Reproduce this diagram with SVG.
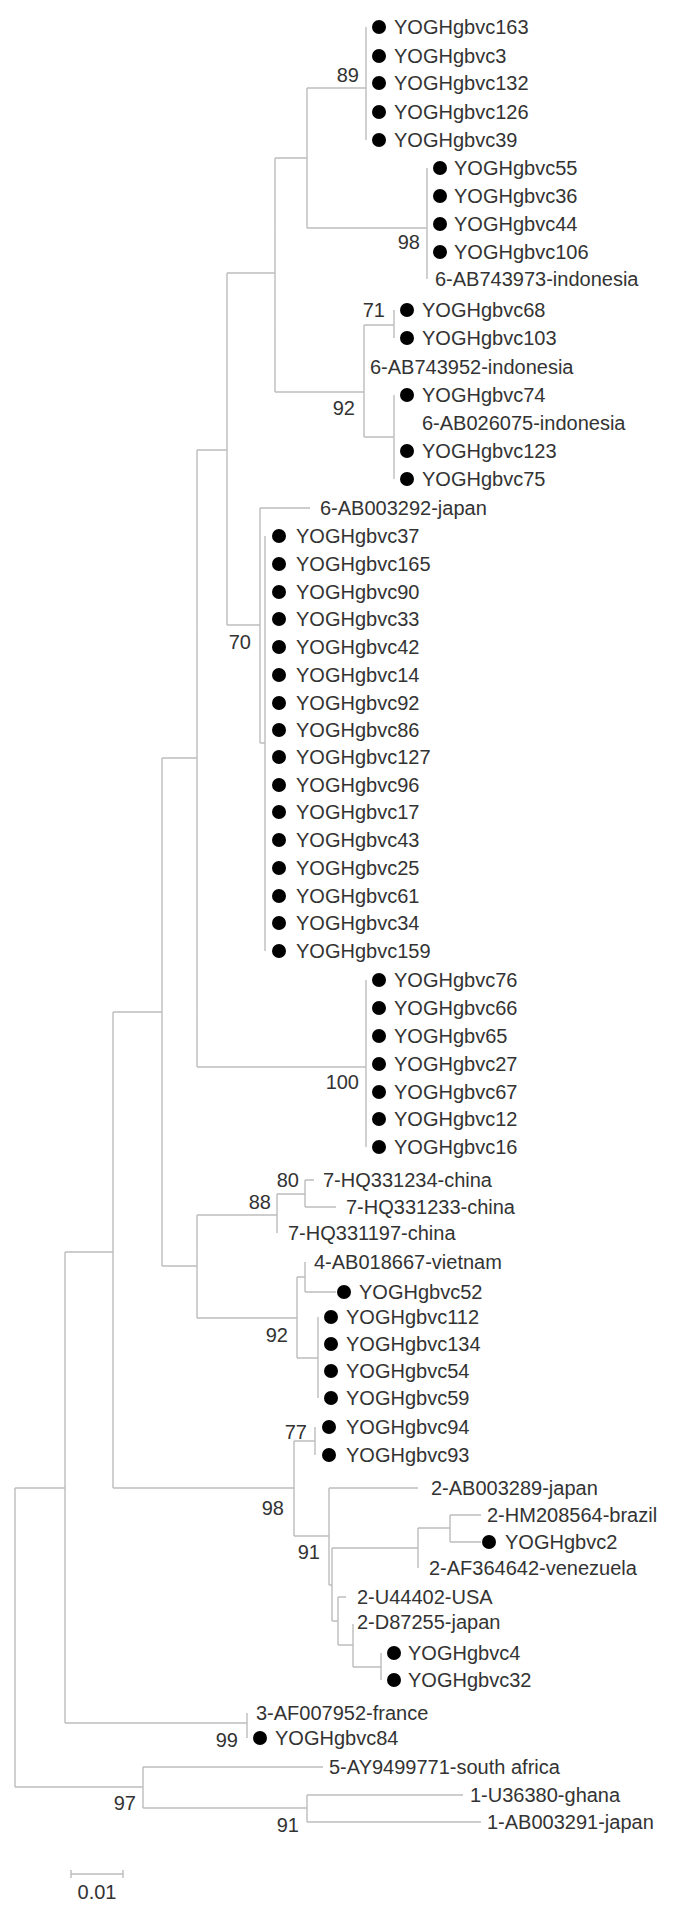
<svg xmlns="http://www.w3.org/2000/svg" width="679" height="1912" viewBox="0 0 679 1912">
<style>
text{font-family:"Liberation Sans",Arial,sans-serif;font-size:20px;fill:#333}
.bs{text-anchor:end}
.br{fill:none;stroke:#bdbdbd;stroke-width:1.4}
.dot{fill:#000}
</style>
<rect width="679" height="1912" fill="#fff"/>
<g id="connectors">
<path class="br" d="M366 27V140M307 88H366M427 168V279M307 228H427M307 88V228M275 158H307M394 310V338M364 325H394M364 325V437M275 392H364M394 395V479M364 437H394M275 158V392M227 273H275M260 508V743M260 508H310M260 743H265M265 536V951M227 273V625M227 625H260M197 450H227M366 980V1147M197 1067H366M197 450V1067M162 758H197M305 1180V1207M305 1180H314M305 1207H336M277 1194V1233M277 1194H305M197 1215H277M305 1262V1292M305 1292H336M318 1317V1398M297 1277V1358M297 1277H305M297 1358H318M197 1318H297M197 1215V1318M162 1266H197M162 758V1266M113 1012H162M315 1427V1455M294 1441H315M450 1515V1542M450 1515H481M450 1542H481M418 1528V1568M418 1528H450M381 1653V1680M353 1624V1667M353 1667H381M338 1597V1645M338 1597H346M338 1645H353M332 1548V1621M332 1548H418M332 1621H338M329 1488V1585M329 1488H418M329 1585H332M294 1441V1536M294 1536H329M113 1488H294M113 1012V1488M65 1252H113M247 1713V1738M65 1723H247M65 1252V1723M15 1488H65M307 1795V1822M307 1795H463M307 1822H481M143 1767V1808M143 1767H323M143 1808H307M15 1488V1787M15 1787H143"/>
</g>
<g id="bootstrap">
<text class="bs" x="359" y="82">89</text>
<text class="bs" x="420" y="249">98</text>
<text class="bs" x="385" y="317">71</text>
<text class="bs" x="355" y="415">92</text>
<text class="bs" x="251" y="649">70</text>
<text class="bs" x="359" y="1089">100</text>
<text class="bs" x="299" y="1187">80</text>
<text class="bs" x="271" y="1209">88</text>
<text class="bs" x="288" y="1342">92</text>
<text class="bs" x="307" y="1439">77</text>
<text class="bs" x="284" y="1515">98</text>
<text class="bs" x="320" y="1559">91</text>
<text class="bs" x="238" y="1747">99</text>
<text class="bs" x="136" y="1810">97</text>
<text class="bs" x="299" y="1832">91</text>
</g>
<g id="leaf-163"><circle class="dot" cx="379" cy="27" r="7"/><text x="394" y="34">YOGHgbvc163</text></g>
<g id="leaf-3"><circle class="dot" cx="379" cy="56" r="7"/><text x="394" y="63">YOGHgbvc3</text></g>
<g id="leaf-132"><circle class="dot" cx="379" cy="83" r="7"/><text x="394" y="90">YOGHgbvc132</text></g>
<g id="leaf-126"><circle class="dot" cx="379" cy="112" r="7"/><text x="394" y="119">YOGHgbvc126</text></g>
<g id="leaf-39"><circle class="dot" cx="379" cy="140" r="7"/><text x="394" y="147">YOGHgbvc39</text></g>
<g id="leaf-55"><circle class="dot" cx="440" cy="168" r="7"/><text x="454" y="175">YOGHgbvc55</text></g>
<g id="leaf-36"><circle class="dot" cx="440" cy="196" r="7"/><text x="454" y="203">YOGHgbvc36</text></g>
<g id="leaf-44"><circle class="dot" cx="440" cy="224" r="7"/><text x="454" y="231">YOGHgbvc44</text></g>
<g id="leaf-106"><circle class="dot" cx="440" cy="252" r="7"/><text x="454" y="259">YOGHgbvc106</text></g>
<g id="leaf-AB743973"><text x="435" y="286">6-AB743973-indonesia</text></g>
<g id="leaf-68"><circle class="dot" cx="407" cy="310" r="7"/><text x="422" y="317">YOGHgbvc68</text></g>
<g id="leaf-103"><circle class="dot" cx="407" cy="338" r="7"/><text x="422" y="345">YOGHgbvc103</text></g>
<g id="leaf-AB743952"><text x="370" y="374">6-AB743952-indonesia</text></g>
<g id="leaf-74"><circle class="dot" cx="407" cy="395" r="7"/><text x="422" y="402">YOGHgbvc74</text></g>
<g id="leaf-AB026075"><text x="422" y="430">6-AB026075-indonesia</text></g>
<g id="leaf-123"><circle class="dot" cx="407" cy="451" r="7"/><text x="422" y="458">YOGHgbvc123</text></g>
<g id="leaf-75"><circle class="dot" cx="407" cy="479" r="7"/><text x="422" y="486">YOGHgbvc75</text></g>
<g id="leaf-AB003292"><text x="320" y="515">6-AB003292-japan</text></g>
<g id="leaf-37"><circle class="dot" cx="279" cy="536" r="7"/><text x="296" y="543">YOGHgbvc37</text></g>
<g id="leaf-165"><circle class="dot" cx="279" cy="564" r="7"/><text x="296" y="571">YOGHgbvc165</text></g>
<g id="leaf-90"><circle class="dot" cx="279" cy="592" r="7"/><text x="296" y="599">YOGHgbvc90</text></g>
<g id="leaf-33"><circle class="dot" cx="279" cy="619" r="7"/><text x="296" y="626">YOGHgbvc33</text></g>
<g id="leaf-42"><circle class="dot" cx="279" cy="647" r="7"/><text x="296" y="654">YOGHgbvc42</text></g>
<g id="leaf-14"><circle class="dot" cx="279" cy="675" r="7"/><text x="296" y="682">YOGHgbvc14</text></g>
<g id="leaf-92"><circle class="dot" cx="279" cy="703" r="7"/><text x="296" y="710">YOGHgbvc92</text></g>
<g id="leaf-86"><circle class="dot" cx="279" cy="730" r="7"/><text x="296" y="737">YOGHgbvc86</text></g>
<g id="leaf-127"><circle class="dot" cx="279" cy="757" r="7"/><text x="296" y="764">YOGHgbvc127</text></g>
<g id="leaf-96"><circle class="dot" cx="279" cy="785" r="7"/><text x="296" y="792">YOGHgbvc96</text></g>
<g id="leaf-17"><circle class="dot" cx="279" cy="812" r="7"/><text x="296" y="819">YOGHgbvc17</text></g>
<g id="leaf-43"><circle class="dot" cx="279" cy="840" r="7"/><text x="296" y="847">YOGHgbvc43</text></g>
<g id="leaf-25"><circle class="dot" cx="279" cy="868" r="7"/><text x="296" y="875">YOGHgbvc25</text></g>
<g id="leaf-61"><circle class="dot" cx="279" cy="896" r="7"/><text x="296" y="903">YOGHgbvc61</text></g>
<g id="leaf-34"><circle class="dot" cx="279" cy="923" r="7"/><text x="296" y="930">YOGHgbvc34</text></g>
<g id="leaf-159"><circle class="dot" cx="279" cy="951" r="7"/><text x="296" y="958">YOGHgbvc159</text></g>
<g id="leaf-76"><circle class="dot" cx="379" cy="980" r="7"/><text x="394" y="987">YOGHgbvc76</text></g>
<g id="leaf-66"><circle class="dot" cx="379" cy="1008" r="7"/><text x="394" y="1015">YOGHgbvc66</text></g>
<g id="leaf-65"><circle class="dot" cx="379" cy="1036" r="7"/><text x="394" y="1043">YOGHgbv65</text></g>
<g id="leaf-27"><circle class="dot" cx="379" cy="1064" r="7"/><text x="394" y="1071">YOGHgbvc27</text></g>
<g id="leaf-67"><circle class="dot" cx="379" cy="1092" r="7"/><text x="394" y="1099">YOGHgbvc67</text></g>
<g id="leaf-12"><circle class="dot" cx="379" cy="1119" r="7"/><text x="394" y="1126">YOGHgbvc12</text></g>
<g id="leaf-16"><circle class="dot" cx="379" cy="1147" r="7"/><text x="394" y="1154">YOGHgbvc16</text></g>
<g id="leaf-HQ331234"><text x="323" y="1187">7-HQ331234-china</text></g>
<g id="leaf-HQ331233"><text x="346" y="1214">7-HQ331233-china</text></g>
<g id="leaf-HQ331197"><text x="288" y="1240">7-HQ331197-china</text></g>
<g id="leaf-AB018667"><text x="314" y="1269">4-AB018667-vietnam</text></g>
<g id="leaf-52"><circle class="dot" cx="344" cy="1292" r="7"/><text x="359" y="1299">YOGHgbvc52</text></g>
<g id="leaf-112"><circle class="dot" cx="331" cy="1317" r="7"/><text x="346" y="1324">YOGHgbvc112</text></g>
<g id="leaf-134"><circle class="dot" cx="331" cy="1344" r="7"/><text x="346" y="1351">YOGHgbvc134</text></g>
<g id="leaf-54"><circle class="dot" cx="331" cy="1371" r="7"/><text x="346" y="1378">YOGHgbvc54</text></g>
<g id="leaf-59"><circle class="dot" cx="331" cy="1398" r="7"/><text x="346" y="1405">YOGHgbvc59</text></g>
<g id="leaf-94"><circle class="dot" cx="329" cy="1427" r="7"/><text x="346" y="1434">YOGHgbvc94</text></g>
<g id="leaf-93"><circle class="dot" cx="329" cy="1455" r="7"/><text x="346" y="1462">YOGHgbvc93</text></g>
<g id="leaf-AB003289"><text x="431" y="1495">2-AB003289-japan</text></g>
<g id="leaf-HM208564"><text x="487" y="1522">2-HM208564-brazil</text></g>
<g id="leaf-2"><circle class="dot" cx="489" cy="1542" r="7"/><text x="505" y="1549">YOGHgbvc2</text></g>
<g id="leaf-AF364642"><text x="429" y="1575">2-AF364642-venezuela</text></g>
<g id="leaf-U44402"><text x="357" y="1604">2-U44402-USA</text></g>
<g id="leaf-D87255"><text x="357" y="1629">2-D87255-japan</text></g>
<g id="leaf-4"><circle class="dot" cx="394" cy="1653" r="7"/><text x="408" y="1660">YOGHgbvc4</text></g>
<g id="leaf-32"><circle class="dot" cx="394" cy="1680" r="7"/><text x="408" y="1687">YOGHgbvc32</text></g>
<g id="leaf-AF007952"><text x="256" y="1720">3-AF007952-france</text></g>
<g id="leaf-84"><circle class="dot" cx="260" cy="1738" r="7"/><text x="275" y="1745">YOGHgbvc84</text></g>
<g id="leaf-AY9499771"><text x="329" y="1774">5-AY9499771-south africa</text></g>
<g id="leaf-U36380"><text x="470" y="1802">1-U36380-ghana</text></g>
<g id="leaf-AB003291"><text x="487" y="1829">1-AB003291-japan</text></g>
<g id="scale-bar">
<path class="br" d="M71 1874H123M71 1870V1878M123 1870V1878"/>
<text x="97" y="1899" text-anchor="middle">0.01</text>
</g>
</svg>
